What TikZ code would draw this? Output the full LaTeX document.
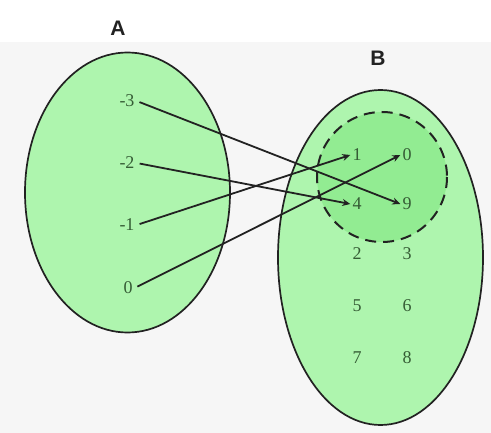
\documentclass[tikz,border=0pt]{standalone}
\usepackage{fontspec}
\setmainfont{Liberation Serif}
\newfontfamily\labelfont{Liberation Sans}
\usetikzlibrary{arrows.meta}
\definecolor{outergreen}{HTML}{AEF5AE}
\definecolor{innergreen}{HTML}{92EC92}
\definecolor{numgreen}{HTML}{355C35}
\definecolor{edgegray}{HTML}{222222}
\definecolor{bggray}{HTML}{F6F6F6}
\tikzset{
  setshape/.style={draw=edgegray, line width=1.7pt, fill=outergreen},
  num/.style={text=numgreen, font=\fontsize{18}{18}\selectfont, inner sep=2pt},
  setlabel/.style={text=edgegray, font=\labelfont\bfseries\fontsize{21}{21}\selectfont},
  maparrow/.style={draw=edgegray, line width=1.8pt, shorten <=3pt, -{Stealth[length=8pt,width=7pt]}}
}
\begin{document}
\begin{tikzpicture}[x=1pt,y=-1pt]
\useasboundingbox (0,0) rectangle (491,433);
\fill[white] (0,0) rectangle (491,433);
\fill[bggray] (0,42) rectangle (491,433);
% sets
\draw[setshape] (127.5,192.5) ellipse [x radius=102.5, y radius=140];
\draw[setshape] (380.5,257.5) ellipse [x radius=102.5, y radius=167.5];
\draw[draw=edgegray, line width=2pt, fill=innergreen, dash pattern=on 11pt off 7pt] (382,177) circle [radius=65];
% labels
\node[setlabel] (labA) at (118,28) {A};
\node[setlabel] (labB) at (378,58) {B};
% domain
\node[num] (am3) at (127,101) {-3};
\node[num] (am2) at (127,163) {-2};
\node[num] (am1) at (127,225) {-1};
\node[num] (a0) at (128,288) {0};
% codomain
\node[num] (b1) at (357,155) {1};
\node[num] (b0) at (407,155) {0};
\node[num] (b4) at (357,204) {4};
\node[num] (b9) at (407,204) {9};
\node[num] (b2) at (357,254) {2};
\node[num] (b3) at (407,254) {3};
\node[num] (b5) at (357,306) {5};
\node[num] (b6) at (407,306) {6};
\node[num] (b7) at (357,358) {7};
\node[num] (b8) at (407,358) {8};
% mappings
\draw[maparrow] (am3.east) -- (b9.west);
\draw[maparrow] (am2.east) -- (b4.west);
\draw[maparrow] (am1.east) -- (b1.west);
\draw[maparrow] (a0.east) -- (b0.west);
\end{tikzpicture}
\end{document}
